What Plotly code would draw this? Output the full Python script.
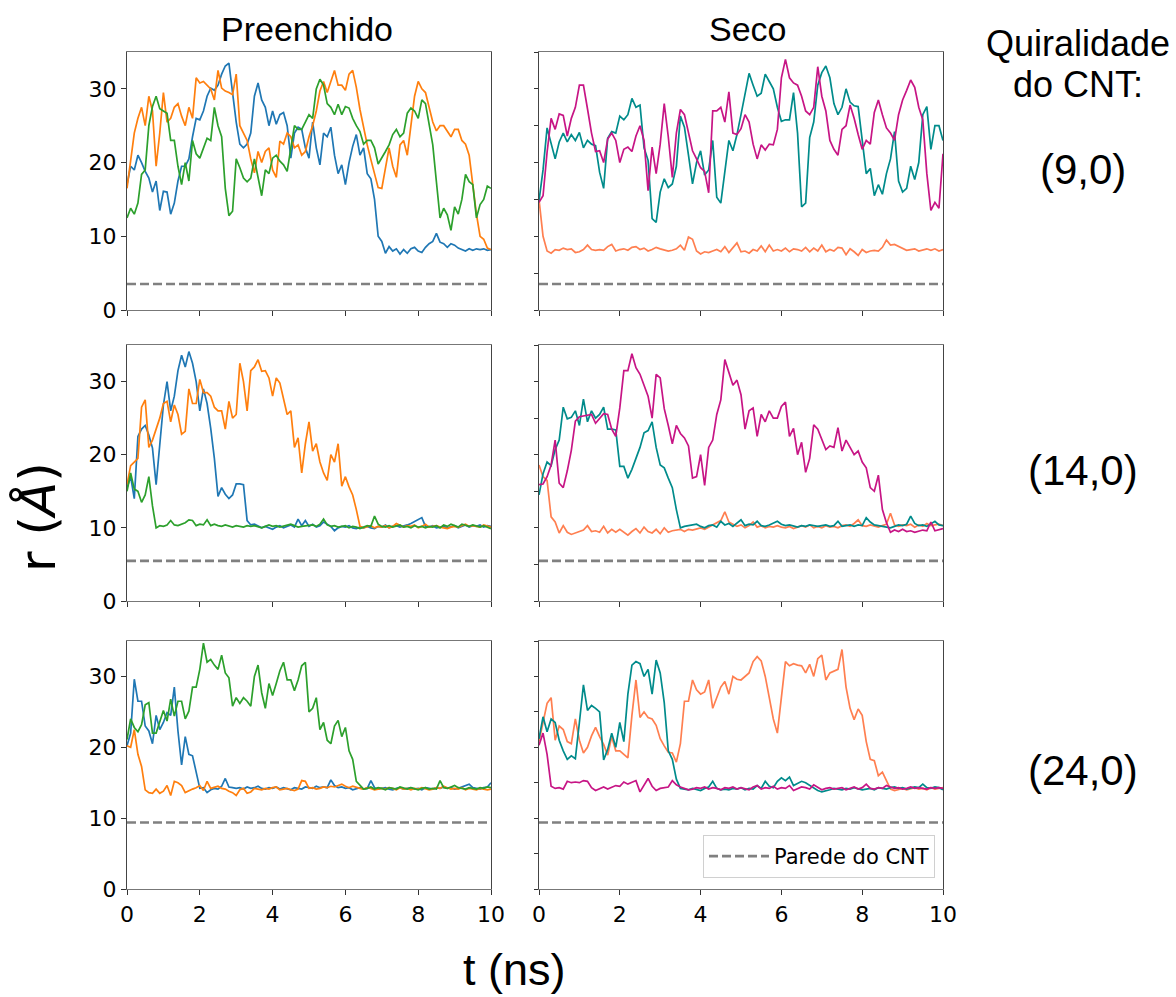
import plotly.graph_objects as go
from plotly.subplots import make_subplots

# ---------------- data ----------------
t_ns = [round(i * 0.1, 1) for i in range(101)]

# Preenchido (9,0)
pre9_blue = [17, 19.5, 19, 21, 20, 18.8, 17.9, 16, 17.5, 13.5,
             16.1, 16, 13, 14.5, 17.5, 19.5, 19.5, 20.5, 23.5, 26,
             25.8, 27, 29, 30.1, 29.8, 30.5, 32, 33.1, 33.5, 29.5,
             25.5, 22.5, 22, 22.5, 24, 29, 30.8, 28.5, 27.5, 25,
             27, 25.2, 26.5, 26.8, 25, 20.6, 24, 24.8, 24.5, 22,
             20.6, 25.5, 22, 19.7, 24, 23.5, 24.8, 21, 18.5, 19.7,
             17, 20, 22.2, 23.8, 21, 22, 18.5, 17.8, 15, 10,
             9.3, 7.7, 8.6, 8, 8.3, 7.6, 8.2, 7.7, 8.3, 8.5,
             8.0, 7.8, 8.5, 9.0, 9.3, 10.4, 9.2, 9.0, 8.5, 9.0,
             8.8, 8.4, 8.2, 8.0, 8.3, 8.1, 8.3, 8.2, 8.3, 8.1,
             8.2]
pre9_orange = [16.5, 20.5, 24, 26, 27.5, 25, 29, 27, 19.5, 24,
               29.5, 25.5, 26, 27.5, 28, 26.3, 25, 27.5, 26, 31.5,
               30.8, 31, 30.5, 30, 28.5, 32.5, 30.1, 29.7, 29.5, 29.2,
               32, 25, 24, 23, 20.5, 18.6, 21.5, 20, 21.5, 22,
               19, 18, 22.9, 22.5, 24, 23.5, 22, 22.4, 21, 21.5,
               23.5, 25, 27, 29.7, 31, 29.5, 31, 32.5, 30.5, 30.5,
               29.8, 32, 32.5, 30.2, 27.2, 24.7, 22.4, 20.4, 18.5, 16.6,
               16.5, 19, 22, 19.5, 18, 22.4, 23, 21, 25, 29,
               31, 30, 29.5, 27.5, 25.5, 24.3, 25, 25, 24.2, 23.5,
               24.5, 24.5, 23, 22.5, 21, 17, 13, 10, 9.6, 8.4,
               8.2]
pre9_green = [12.5, 13.8, 13, 14.5, 18.4, 19, 25, 27.6, 29, 27.3,
              27, 26.7, 23, 23, 19.5, 17, 20, 17.5, 23, 21.2,
              20.6, 22, 23.3, 23, 27.5, 25, 23.5, 16.5, 12.8, 13.4,
              20.5, 19.3, 17.9, 17.4, 17.9, 20.5, 18, 15.5, 19, 18.5,
              20.6, 21, 20.2, 19.7, 18.8, 22, 25, 24.5, 24.5, 25.5,
              26.5, 26, 30, 31.3, 30.5, 28, 27.5, 26.5, 27.9, 26.5,
              27.6, 27.4, 26, 25, 24.2, 22.5, 23, 23, 22, 19.8,
              20.6, 21.5, 22.4, 23.8, 24.5, 23.5, 24, 26.7, 27.4, 27,
              26, 28.5, 28, 25, 22.4, 17.4, 12.5, 13.8, 12.9, 10.8,
              14, 13, 15, 18.4, 17.4, 17, 12.5, 14.3, 15, 16.8,
              16.5]

# Seco (9,0)
seco9_coral = [15, 10, 8, 7.7, 8.2, 8.1, 8.4, 8.2, 8.3, 7.8,
               7.9, 8.2, 8.8, 8.2, 8.1, 8.2, 8.1, 8.6, 8.9, 8.0,
               8.2, 8.3, 8.1, 8.5, 8.6, 8.2, 8.4, 8.0, 8.2, 8.5,
               8.3, 8.2, 8.0, 8.1, 8.3, 8.8, 8.1, 9.9, 9.6, 8.0,
               7.6, 7.9, 7.8, 8.0, 8.2, 7.9, 8.6, 7.8, 8.4, 9.1,
               7.9, 8.0, 7.7, 8.2, 8.0, 8.7, 7.9, 8.8, 8.0, 8.2,
               8.0, 8.4, 7.9, 8.3, 8.2, 8.0, 8.5, 7.9, 8.4, 8.0,
               8.8, 7.9, 8.2, 8.0, 8.5, 8.4, 7.5, 8.3, 7.9, 7.4,
               8.2, 7.8, 8.0, 8.1, 8.0, 8.5, 9.5, 8.8, 8.9, 8.6,
               8.3, 8.1, 8.2, 8.3, 8.0, 8.2, 8.3, 8.1, 8.3, 8.0,
               8.2]
seco9_teal = [14.8, 19, 24.7, 22.5, 20.5, 22.8, 24, 22.8, 23.8, 23,
              24.1, 22, 23, 22.5, 22.3, 18.7, 16.5, 23.3, 24.2, 24,
              26.3, 25.8, 26.5, 28.7, 27.5, 27.8, 22, 20.3, 12.4, 11.9,
              16, 17.8, 16.6, 17.1, 19.5, 26.3, 24.8, 21, 17.1, 20,
              21.6, 18.3, 19, 23, 15.3, 14.5, 19, 23, 21.6, 23.8,
              26.5, 29.5, 32.1, 30.5, 29, 29.4, 32, 31, 30, 27.5,
              25.6, 25.8, 25.8, 29.5, 24, 14, 14.5, 23.4, 25.5, 30.5,
              32.2, 33.1, 31.5, 28, 26.5, 27.5, 30, 28.2, 27.7, 27.6,
              23, 18.5, 19.2, 15.5, 17, 15.7, 18.5, 20.5, 24.2, 17.5,
              16, 16.5, 19.5, 17.7, 20, 26.5, 27.6, 21.8, 25, 25,
              23]
seco9_magenta = [14.6, 15.5, 21.4, 26, 24.5, 26.6, 26.4, 23.6, 26, 27.5,
                 30.5, 30.5, 27.3, 24, 21.5, 21.6, 20, 23.2, 24, 23,
                 20, 21.8, 22.1, 21.5, 23.6, 25, 23, 16.2, 22.1, 18.5,
                 22.5, 28, 23.5, 18, 24, 27.2, 26.5, 24.2, 21.6, 20.5,
                 19.3, 18.8, 15.9, 27, 27, 27.5, 25.5, 29.6, 24, 23.8,
                 24.6, 26.5, 25.5, 22.5, 20.5, 22.4, 21.7, 22.5, 22.4, 24.5,
                 31.5, 34, 31.5, 30.8, 30.5, 29, 27, 26.5, 27.5, 33,
                 29, 27, 23, 21.8, 21, 24.5, 25, 27.8, 26, 23.8,
                 21.8, 23, 22.5, 26.8, 28.5, 26.5, 24.7, 24, 23, 26.5,
                 28.5, 29.8, 31.2, 30.2, 27.5, 25.8, 18.5, 13.5, 14.6, 13.8,
                 21.2]

# Preenchido (14,0)
pre14_blue = [15.5, 17, 14, 22.5, 23.5, 24, 22.7, 20.9, 15.9, 21,
              26.8, 30, 26, 28, 31.5, 33.6, 32, 34.1, 32.5, 30,
              26, 29, 27, 23.6, 19.5, 14.3, 15.5, 14.6, 14, 14.5,
              16, 16, 15.9, 11, 10.4, 10.5, 10.3, 10.0, 10.2, 10.0,
              9.8, 10.1, 10.3, 10.0, 10.2, 10.4, 10.1, 11.2, 10.3, 11.0,
              10.2, 10.5, 10.1, 10.3, 10.8, 10.5, 10.2, 9.6, 10.0, 10.2,
              10.1, 10.3, 10.0, 9.9, 10.1, 10.0, 10.2, 10.0, 9.9, 10.2,
              10.1, 10.4, 10.0, 10.2, 10.3, 10.1, 10.2, 10.4, 10.6, 10.9,
              11.1, 11.4, 10.2, 10.1, 10.3, 10.0, 10.1, 10.2, 10.0, 10.1,
              10.3, 10.0, 10.2, 10.4, 10.1, 10.3, 10.2, 10.4, 10.1, 10.3,
              10.2]
pre14_orange = [15.9, 18.5, 19, 19.5, 26.5, 27.5, 21, 22, 23.5, 25,
                27, 27.3, 24.5, 26.8, 25.5, 22.8, 23.2, 29, 27, 27,
                30.3, 28.5, 28.5, 28, 26.5, 26, 26, 23.5, 27.3, 25,
                25.5, 32.5, 30, 26, 31.5, 32, 33, 31.4, 31.5, 30.5,
                28, 30.5, 29.8, 27.5, 25.5, 26, 21, 22.3, 17.5, 21.5,
                24.5, 20.5, 21.5, 19, 17.5, 16.5, 20, 19, 21.5, 15.7,
                17, 15.6, 14.5, 12.5, 10.2, 10.0, 10.1, 10.3, 10.0, 10.2,
                10.1, 10.3, 10.0, 10.2, 10.6, 10.3, 10.1, 10.3, 10.2, 10.4,
                10.0, 10.2, 10.5, 10.1, 10.2, 10.3, 10.1, 10.0, 9.9, 10.1,
                10.2, 10.1, 10.3, 10.5, 10.2, 10.3, 10.2, 10.1, 10.4, 10.2,
                10.1]
pre14_green = [15, 17.5, 15.3, 15, 13.5, 14.5, 17, 13, 10, 10.3,
               10.2, 10.4, 11.0, 10.4, 10.3, 10.5, 10.7, 11.1, 11.0, 10.3,
               10.5, 10.4, 11.1, 10.3, 10.5, 10.3, 10.2, 10.4, 10.2, 10.1,
               10.3, 10.2, 10.1, 10.3, 10.2, 10.3, 10.1, 10.0, 10.2, 10.4,
               10.2, 10.3, 10.1, 10.2, 10.3, 10.5, 10.3, 10.1, 10.2, 10.3,
               10.3, 10.4, 10.2, 10.5, 11.2, 10.4, 10.2, 10.3, 10.1, 10.2,
               10.3, 10.0, 10.2, 10.1, 9.9, 10.1, 10.3, 10.2, 11.6, 10.5,
               10.2, 10.1, 10.3, 10.1, 10.2, 10.4, 10.1, 10.2, 10.0, 10.3,
               10.1, 10.2, 10.0, 10.2, 10.1, 10.3, 10.0, 10.4, 10.2, 10.5,
               10.3, 10.1, 10.5, 10.3, 10.2, 10.4, 10.2, 10.1, 10.3, 10.1,
               9.9]

# Seco (14,0)
seco14_coral = [18.6, 17, 16.5, 11.5, 10.8, 9.3, 10.3, 9.4, 9.1, 9.3,
                9.5, 9.7, 10.3, 9.5, 9.6, 9.4, 10.2, 9.3, 9.8, 9.4,
                9.8, 9.4, 9.0, 9.5, 9.9, 9.3, 10.1, 9.5, 9.3, 9.8,
                9.2, 10.0, 9.4, 9.6, 9.7, 9.8, 9.5, 9.8, 9.7, 9.9,
                10.0, 9.8, 10.1, 10.3, 10.6, 11.0, 12.2, 10.8, 10.5, 10.2,
                10.4, 10.0, 10.3, 10.8, 10.1, 10.3, 10.0, 10.2, 10.1, 10.3,
                10.1, 10.0, 10.2, 9.9, 10.1, 10.3, 10.1, 10.4, 10.0, 10.2,
                10.0, 10.3, 10.1, 10.2, 10.0, 10.3, 10.4, 10.2, 10.6, 11.1,
                10.3, 10.2, 10.4, 10.2, 10.1, 10.3, 10.5, 12.0, 10.4, 10.2,
                10.4, 10.3, 10.5, 10.1, 10.4, 10.2, 10.6, 10.3, 10.4, 10.5,
                10.3]
seco14_teal = [14.5, 17.4, 19, 18.5, 20.7, 22, 26.5, 24.9, 25.1, 26,
               24, 27.6, 24.5, 26, 25, 25.5, 26.5, 23.5, 23.5, 23.4,
               18.4, 18.4, 16.8, 18, 19.5, 21, 23, 23.3, 24.5, 21,
               18.6, 18.2, 16.8, 15.5, 12.5, 10, 10.2, 10.3, 10.3, 10.5,
               10.2, 10.0, 10.3, 10.4, 10.1, 10.9, 10.4, 10.6, 10.2, 10.6,
               11.1, 10.3, 10.5, 10.4, 10.9, 10.3, 10.2, 10.4, 10.6, 10.9,
               10.5, 10.3, 10.4, 10.2, 10.1, 10.3, 10.2, 10.4, 10.3, 10.2,
               10.3, 10.4, 10.2, 10.3, 10.9, 10.2, 10.3, 10.4, 10.2, 10.4,
               10.3, 11.4, 10.8, 10.4, 10.3, 10.2, 10.1, 10.0, 10.2, 10.4,
               10.3, 10.5, 11.6, 10.6, 10.3, 10.4, 10.2, 10.5, 10.9, 10.4,
               10.3]
seco14_magenta = [15.9, 16, 17, 18.6, 22, 16.1, 15.5, 17.8, 20.6, 24.6,
                  25.2, 25.3, 25.5, 25.5, 24.3, 25, 25.6, 25.5, 23.5, 22.5,
                  26.4, 31.5, 31.5, 33.8, 31.9, 31, 29.5, 28, 25, 31,
                  30.5, 26.3, 24, 21.5, 24, 22.9, 22.3, 21.2, 16.8, 17,
                  20, 15.8, 21, 22, 25.5, 27.5, 33, 31.4, 29.5, 30.2,
                  28.2, 23.5, 26, 26.4, 22.5, 25.5, 24.5, 26, 25, 25,
                  26.6, 27.2, 22.5, 23.6, 20, 21.7, 17.6, 19.5, 24.1, 23.5,
                  22.2, 20.7, 21.2, 21, 23.7, 20.5, 22, 21, 20, 20.5,
                  19, 18.2, 15.5, 15, 17.2, 12.5, 10.7, 9.4, 9.7, 9.5,
                  9.8, 9.5, 9.6, 9.4, 9.5, 9.7, 9.6, 10.8, 9.6, 9.8,
                  9.9]

# Preenchido (24,0)
pre24_blue = [20.2, 22, 29.6, 26.5, 26.5, 23, 22.3, 20.5, 24.5, 22.5,
              23.5, 24.9, 24.5, 28.5, 22.3, 17.5, 21.5, 19, 18.8, 16.5,
              14.2, 14.3, 13.6, 14.0, 14.2, 14.1, 14.5, 15.6, 14.4, 14.3,
              14.2, 14.3, 14.1, 14.4, 14.2, 14.3, 14.5, 14.2, 14.1, 14.3,
              14.2, 14.4, 14.1, 14.3, 14.2, 14.0, 14.3, 14.2, 14.1, 14.4,
              14.3, 14.2, 14.5, 14.3, 14.4, 14.3, 15.4, 14.6, 14.3, 14.4,
              14.2, 14.3, 14.0, 14.2, 14.3, 14.1, 14.2, 15.3, 14.3, 14.1,
              14.2, 14.3, 14.1, 14.0, 14.2, 14.3, 14.1, 14.2, 14.3, 14.1,
              14.2, 14.0, 14.3, 14.2, 14.1, 14.3, 14.2, 14.4, 14.2, 14.3,
              14.1, 14.2, 14.4, 14.6, 14.8, 14.3, 14.2, 14.1, 14.3, 14.4,
              15]
pre24_orange = [20.2, 20, 22.5, 19, 17.3, 14, 13.6, 13.5, 14.1, 13.5,
                13.8, 14.6, 13.2, 15.2, 15, 14.6, 13.6, 13.9, 14.1, 14.3,
                14.6, 13.9, 15.2, 14.2, 14.4, 14.5, 14.2, 14.1, 13.8, 13.6,
                13.2, 14.0, 14.2, 13.5, 13.7, 14.2, 14.1, 14.0, 14.2, 14.1,
                14.3, 14.4, 14.0, 14.1, 14.2, 14.0, 13.9, 14.1, 15.3, 15.2,
                14.2, 14.3, 14.1, 14.2, 14.4, 14.3, 14.5, 14.4, 14.6, 14.8,
                14.5, 14.3, 14.5, 14.3, 14.2, 14.1, 14.3, 14.2, 14.0, 14.1,
                14.2, 14.1, 14.3, 14.2, 14.0, 14.3, 14.1, 14.2, 14.0, 14.2,
                14.1, 14.3, 14.2, 14.0, 14.1, 14.3, 14.2, 14.5, 14.3, 14.1,
                14.2, 14.1, 14.3, 14.0, 14.2, 14.1, 14.0, 14.2, 14.1, 14.0,
                14.1]
pre24_green = [21.1, 24, 22.8, 22.2, 23.2, 26, 26.3, 22, 22, 23.5,
               25.2, 23.7, 26.8, 24.4, 26.5, 26.5, 24, 25.1, 28.5, 28.5,
               31, 34.7, 32, 32.4, 31.6, 31, 33, 30.5, 29.8, 25.8,
               27, 26.2, 27, 26.5, 25.8, 30, 31.6, 27.7, 25.5, 29,
               27.3, 29, 30.8, 32, 29.5, 29.5, 28, 29.5, 31.5, 32,
               25, 25.5, 27, 22.5, 23.5, 21, 20.5, 23, 23.8, 21.5,
               22.8, 19.5, 18.3, 15.2, 14.6, 14.1, 14.2, 14.4, 14.1, 14.3,
               14.2, 14.0, 14.3, 14.2, 14.1, 14.4, 14.2, 14.1, 14.3, 14.2,
               14.0, 14.2, 14.3, 14.1, 14.2, 14.1, 15.3, 14.3, 14.2, 14.4,
               14.6, 14.3, 14.2, 14.1, 14.3, 14.2, 14.1, 14.3, 14.2, 14.4,
               14.3]

# Seco (24,0)
seco24_coral = [20.8, 23.5, 26.2, 27, 21, 23, 22.5, 20.8, 20.5, 24,
                21, 19.2, 20, 21.6, 22.8, 21.5, 20.4, 18.9, 21.5, 19.5,
                19.5, 19, 18.5, 24.5, 29.5, 24.2, 25, 24.2, 24, 23.1,
                21.2, 20.2, 19.3, 19.2, 17.9, 20.5, 26.5, 26.5, 29.5, 28.1,
                27.5, 27.8, 29.5, 25.5, 27, 28.5, 29.3, 27.5, 30, 29.6,
                29.5, 30, 30.5, 32.1, 32.8, 32.2, 30, 27, 24, 22,
                27.5, 32.1, 31.5, 31.8, 31.6, 31.5, 30.5, 31.7, 30, 32.5,
                33, 29.5, 30.5, 30.8, 31, 33.8, 28.5, 25.5, 23.9, 25.4,
                24.5, 20.8, 18.3, 18.1, 16, 16.5, 15.3, 14.1, 13.9, 14.1,
                14.2, 14.0, 14.1, 14.3, 14.1, 14.2, 14.0, 14.3, 14.1, 14.2,
                14.3]
seco24_teal = [21.2, 24.3, 22.2, 24, 23.5, 21, 19.5, 18.3, 18.8, 18.4,
               23.5, 28.8, 25.2, 25.9, 25.5, 25, 18.2, 19.7, 22, 20,
               23.5, 20.8, 27.5, 31.6, 32.1, 31.8, 30, 31, 27.5, 32.3,
               30.5, 26.3, 19.5, 18.3, 15.5, 14.2, 14.1, 14.0, 14.2, 14.1,
               13.9, 14.2, 14.4, 15.2, 14.2, 14.0, 14.1, 14.0, 14.2, 14.1,
               14.3, 14.0, 14.2, 14.1, 14.6, 14.2, 15.2, 14.5, 14.3, 15.2,
               15.7, 15.3, 15.8, 14.6, 14.9, 15.2, 15.0, 14.6, 14.3, 13.9,
               13.7, 13.8, 14.0, 14.2, 14.1, 14.0, 14.2, 14.1, 14.3, 14.2,
               14.0, 14.1, 14.2, 14.0, 14.3, 14.2, 14.1, 14.3, 14.4, 14.2,
               14.3, 14.1, 14.2, 14.4, 14.3, 14.8, 14.3, 14.2, 14.4, 14.3,
               14.0]
seco24_magenta = [20.3, 22, 19, 14.5, 14.2, 14.3, 14.1, 15.2, 15.0, 15.1,
                  15.0, 15.3, 15.2, 14.3, 13.9, 14.2, 14.4, 14.1, 14.3, 14.6,
                  14.5, 15.1, 14.8, 15.0, 15.3, 13.7, 14.6, 15.6, 14.5, 13.9,
                  14.2, 14.3, 14.4, 15.3, 14.7, 14.4, 14.2, 14.0, 14.1, 14.3,
                  14.2, 14.4, 14.1, 14.3, 14.2, 14.0, 14.3, 14.2, 14.4, 14.1,
                  14.3, 14.2, 14.0, 14.4, 14.6, 14.1, 14.3, 14.2, 14.5, 14.1,
                  14.3, 14.2, 14.6, 13.9, 14.2, 14.4, 14.3, 14.1, 14.7, 14.3,
                  14.0, 14.2, 14.3, 14.1, 14.2, 14.3, 14.0, 14.2, 14.4, 14.1,
                  14.3, 14.8, 14.2, 14.1, 14.3, 14.2, 14.6, 14.4, 14.2, 14.3,
                  14.1, 14.2, 14.4, 14.2, 14.3, 14.2, 14.1, 14.3, 14.2, 14.3,
                  14.2]

wall_radius = [3.52, 5.48, 9.39]          # CNT wall radius (Å) per row
chirality_labels = ["(9,0)", "(14,0)", "(24,0)"]
column_titles = ["Preenchido", "Seco"]
x_ticks = [0, 2, 4, 6, 8, 10]
y_ticks_left = [0, 10, 20, 30]
y_ticks_right = [0, 5, 10, 15, 20, 25, 30, 35]

left_colors = ["#1f77b4", "#ff7f0e", "#2ca02c"]
right_colors = ["#ff7f50", "#008b8b", "#c71585"]

panels = {
    (1, 1): [pre9_blue, pre9_orange, pre9_green],
    (1, 2): [seco9_coral, seco9_teal, seco9_magenta],
    (2, 1): [pre14_blue, pre14_orange, pre14_green],
    (2, 2): [seco14_coral, seco14_teal, seco14_magenta],
    (3, 1): [pre24_blue, pre24_orange, pre24_green],
    (3, 2): [seco24_coral, seco24_teal, seco24_magenta],
}

# ---------------- figure ----------------
W, H = 1176, 997
fig = make_subplots(rows=3, cols=2)

for (r, c), series in panels.items():
    colors = left_colors if c == 1 else right_colors
    for s, col in zip(series, colors):
        fig.add_trace(go.Scatter(x=t_ns, y=s, mode="lines",
                                 line=dict(color=col, width=1.7),
                                 showlegend=False, hoverinfo="skip"),
                      row=r, col=c)
    fig.add_trace(go.Scatter(x=[0, 10], y=[wall_radius[r - 1]] * 2, mode="lines",
                             line=dict(color="#808080", width=2.6, dash="9px,4px"),
                             name="Parede do CNT",
                             showlegend=(r == 3 and c == 2), hoverinfo="skip"),
                  row=r, col=c)

# panel positions in pixels
col_px = {1: (127, 491), 2: (539, 943)}
row_px = {1: (52, 310), 2: (345, 601), 3: (641, 889)}

for r in (1, 2, 3):
    for c in (1, 2):
        idx = (r - 1) * 2 + c
        xa = "xaxis" if idx == 1 else f"xaxis{idx}"
        ya = "yaxis" if idx == 1 else f"yaxis{idx}"
        x0, x1 = col_px[c]
        y0, y1 = row_px[r]
        fig.layout[xa].update(
            domain=[x0 / W, x1 / W], range=[0, 10], tickvals=x_ticks,
            showticklabels=(r == 3), ticks="outside", ticklen=5, tickwidth=1,
            tickcolor="#333", showline=True, mirror=True, linecolor="#777",
            linewidth=1.2, showgrid=False, zeroline=False, automargin=False,
            tickfont=dict(family="DejaVu Sans", size=22, color="black"))
        fig.layout[ya].update(
            domain=[1 - y1 / H, 1 - y0 / H], range=[0, 35],
            tickvals=(y_ticks_left if c == 1 else y_ticks_right),
            showticklabels=(c == 1), ticks="outside",
            ticklen=(5 if c == 1 else 4), tickwidth=1, tickcolor="#333",
            showline=True, mirror=True, linecolor="#444", linewidth=1.2,
            showgrid=False, zeroline=False, automargin=False,
            tickfont=dict(family="DejaVu Sans", size=22, color="black"))

arial = "Liberation Sans, Arial, sans-serif"
ann = []
for title, cx in zip(column_titles, [307, 748]):
    ann.append(dict(text=title, x=cx / W, y=1 - 29 / H, xref="paper", yref="paper",
                    showarrow=False, xanchor="center", yanchor="middle",
                    font=dict(family=arial, size=34, color="black")))
ann.append(dict(text="Quiralidade", x=1078 / W, y=1 - 43 / H, xref="paper", yref="paper",
                showarrow=False, xanchor="center", yanchor="middle",
                font=dict(family=arial, size=36, color="black")))
ann.append(dict(text="do CNT:", x=1078 / W, y=1 - 84 / H, xref="paper", yref="paper",
                showarrow=False, xanchor="center", yanchor="middle",
                font=dict(family=arial, size=36, color="black")))
for lab, cy in zip(chirality_labels, [170, 470, 770]):
    ann.append(dict(text=lab, x=1083 / W, y=1 - cy / H, xref="paper", yref="paper",
                    showarrow=False, xanchor="center", yanchor="middle",
                    font=dict(family=arial, size=42, color="black")))
ann.append(dict(text="r (<i>Å</i>)", x=38 / W, y=1 - 517 / H, xref="paper", yref="paper",
                showarrow=False, textangle=-90, xanchor="center", yanchor="middle",
                font=dict(family="DejaVu Sans", size=50, color="black")))
ann.append(dict(text="t (ns)", x=514 / W, y=1 - 969 / H, xref="paper", yref="paper",
                showarrow=False, xanchor="center", yanchor="middle",
                font=dict(family=arial, size=45, color="black")))

fig.update_layout(
    width=W, height=H, margin=dict(l=0, r=0, t=0, b=0),
    paper_bgcolor="white", plot_bgcolor="white",
    annotations=ann,
    legend=dict(x=935 / W, y=1 - 878 / H, xanchor="right", yanchor="bottom",
                bgcolor="white", bordercolor="#d0d0d0", borderwidth=1,
                itemwidth=60,
                font=dict(family="DejaVu Sans", size=21, color="black")),
)

fig.write_html("out.html",
               config={"displayModeBar": False},
               post_script="document.body.style.margin='0px';"
                           "document.body.style.overflow='hidden';")
